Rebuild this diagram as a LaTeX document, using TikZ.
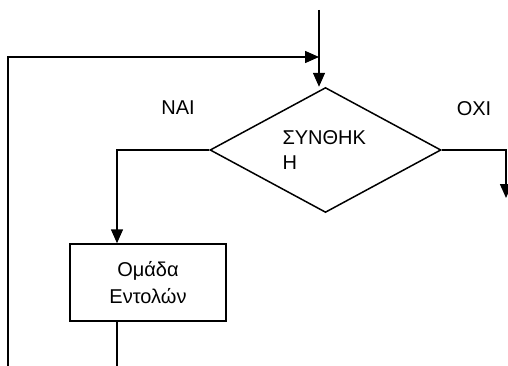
\documentclass[tikz,border=0pt]{standalone}
\usepackage{fontspec}
\setmainfont{Liberation Sans}
\usetikzlibrary{arrows.meta, shapes.geometric, positioning}

\begin{document}
\begin{tikzpicture}[
    x=1pt, y=-1pt, line width=1.5pt,
    decision/.style={draw, diamond, minimum width=231pt, minimum height=124pt, inner sep=0pt, text width=86pt, align=left, font=\fontsize{20}{25}\selectfont},
    process/.style={draw, rectangle, minimum width=156pt, minimum height=77pt, align=center, font=\fontsize{20}{27}\selectfont},
    answer/.style={font=\fontsize{20}{24}\selectfont},
    arrow/.style={-{Triangle[length=14pt, width=12pt]}}
]
\useasboundingbox (0,0) rectangle (508,366);
\clip (0,0) rectangle (508,366);

\node (cond) [decision] at (325.5,150) {ΣΥΝΘΗΚ\\Η};
\node (grp) [process] at (148,282.5) {Ομάδα\\Εντολών};
\node (yeslbl) [answer] at (178,108) {NAI};
\node (nolbl) [answer] at (474,109) {OXI};

\coordinate (top) at (319,10);
\coordinate (join) at (319,57);
\coordinate (back) at (8,366);
\coordinate (yes) at (117,150);
\coordinate (loopend) at (117,366);
\coordinate (noend) at (506,198);

\draw [arrow] (top) -- (top |- cond.north);
\draw [arrow] (back) |- (join);
\draw [arrow] (cond.west) -- (yes) -- (yes |- grp.north);
\draw [arrow] (cond.east) -| (noend);
\draw (yes |- grp.south) -- (loopend);

\end{tikzpicture}
\end{document}
